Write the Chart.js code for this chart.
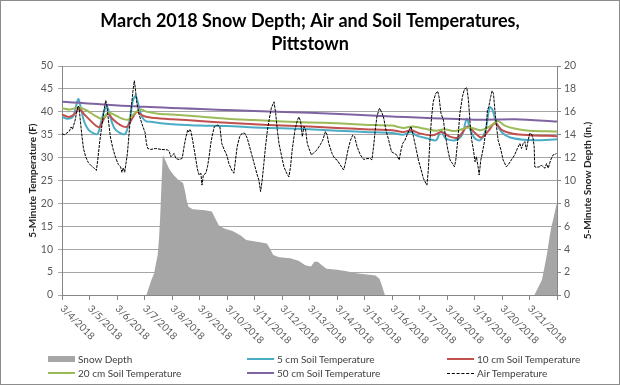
<!DOCTYPE html>
<html>
<head>
<meta charset="utf-8">
<script src="https://cdn.jsdelivr.net/npm/chart.js@4.4.1/dist/chart.umd.min.js"></script>
<style>
  body { margin: 0; background: #fff; }
  #wrap { position: relative; width: 620px; height: 385px; }
  #legend {
    position: absolute; left: 48px; top: 352px;
    display: grid; grid-template-columns: 199px 200px 160px; grid-auto-rows: 14px;
    font: 10px Lato, sans-serif; color: #404040;
  }
  .item { display: flex; align-items: center; white-space: nowrap; }
  .sw { width: 27px; margin-right: 3px; }
</style>
</head>
<body>
<div id="wrap">
  <canvas id="chart" width="620" height="385"></canvas>
  <div id="legend"></div>
</div>
<script>
// x values are days since 3/4/2018 00:00
const dateLabels = ['3/4/2018', '3/5/2018', '3/6/2018', '3/7/2018', '3/8/2018', '3/9/2018',
  '3/10/2018', '3/11/2018', '3/12/2018', '3/13/2018', '3/14/2018', '3/15/2018',
  '3/16/2018', '3/17/2018', '3/18/2018', '3/19/2018', '3/20/2018', '3/21/2018'];

const airDays = [0, 0.1, 0.18, 0.27, 0.33, 0.38, 0.47, 0.52, 0.58, 0.62, 0.66, 0.72, 0.78, 0.86, 0.95,
  1.05, 1.15, 1.25, 1.3, 1.37, 1.45, 1.52, 1.59, 1.63, 1.7, 1.76, 1.85, 1.95,
  2.05, 2.13, 2.18, 2.23, 2.28, 2.38, 2.45, 2.52, 2.58, 2.63, 2.67, 2.72, 2.8, 2.9, 2.96,
  3.02, 3.07, 3.12, 3.23, 3.41, 3.6, 3.84, 3.9, 3.96, 4.02, 4.08, 4.14, 4.26, 4.36, 4.38, 4.45,
  4.51, 4.57, 4.6, 4.65, 4.69, 4.75, 4.81, 4.87, 4.93, 4.99, 5.05, 5.09, 5.14, 5.23, 5.29, 5.35,
  5.41, 5.48, 5.54, 5.66, 5.74, 5.81, 5.9, 5.96, 6.01, 6.07, 6.17, 6.25, 6.31, 6.37, 6.46, 6.56,
  6.65, 6.74, 6.82, 6.92, 7.02, 7.1, 7.16, 7.22, 7.28, 7.34, 7.4, 7.47, 7.53, 7.61, 7.71, 7.77,
  7.83, 7.89, 7.99, 8.07, 8.17, 8.25, 8.31, 8.37, 8.47, 8.56, 8.62, 8.68, 8.74, 8.8, 8.86, 8.92,
  8.98, 9.07, 9.15, 9.27, 9.39, 9.48, 9.58, 9.64, 9.7, 9.82, 9.92, 10.0, 10.12, 10.24, 10.3,
  10.4, 10.49, 10.57, 10.64, 10.73, 10.85, 10.97, 11.09, 11.21, 11.27, 11.33, 11.39, 11.45,
  11.52, 11.55, 11.64, 11.7, 11.78, 11.88, 11.98, 12.09, 12.17, 12.26, 12.33, 12.39, 12.47,
  12.57, 12.69, 12.78, 12.86, 12.96, 13.06, 13.14, 13.23, 13.27, 13.32, 13.38, 13.44, 13.5,
  13.59, 13.66, 13.71, 13.78, 13.87, 13.93, 14.03, 14.11, 14.2, 14.27, 14.32, 14.39, 14.47,
  14.56, 14.63, 14.72, 14.78, 14.84, 14.9, 14.96, 15.02, 15.07, 15.13, 15.17, 15.23, 15.28,
  15.35, 15.43, 15.47, 15.52, 15.59, 15.64, 15.69, 15.74, 15.8, 15.86, 15.96, 16.04, 16.16,
  16.22, 16.34, 16.46, 16.56, 16.65, 16.71, 16.77, 16.83, 16.89, 16.95, 17.01, 17.07, 17.13,
  17.17, 17.19, 17.25, 17.37, 17.43, 17.49, 17.56, 17.62, 17.68, 17.77, 17.86, 17.98];
const airTemp = [35.2, 35.0, 35.4, 35.8, 36.7, 36.2, 38.0, 39.5, 41.3, 41.0, 38.5, 35.0, 32.0, 30.2, 29.0,
  28.3, 27.8, 27.2, 29.5, 33.4, 37.0, 40.0, 42.5, 41.5, 37.5, 34.5, 32.0, 30.0,
  28.5, 28.0, 26.8, 27.8, 26.8, 31.0, 36.0, 41.0, 44.5, 46.8, 45.0, 42.0, 39.5, 37.5, 36.5,
  35.5, 33.1, 32.0, 31.8, 32.0, 31.8, 31.7, 31.3, 30.2, 30.6, 30.9, 29.8, 29.6, 29.8, 30.2, 32.8,
  34.6, 36.0, 35.6, 36.2, 35.7, 33.8, 31.7, 29.5, 27.3, 26.2, 26.6, 24.0, 26.2, 26.6, 28.0, 30.2,
  33.1, 35.3, 36.8, 37.1, 36.8, 33.1, 31.7, 31.0, 30.2, 28.7, 27.3, 26.6, 29.5, 32.4, 34.6, 35.4,
  35.3, 34.2, 32.4, 30.2, 28.0, 26.2, 25.1, 22.6, 25.1, 28.7, 32.4, 36.0, 38.2, 40.8, 42.2, 39.7,
  36.0, 33.1, 30.2, 28.0, 26.6, 25.8, 28.0, 31.7, 36.0, 38.2, 38.9, 37.8, 34.6, 36.8, 36.0, 33.1,
  32.0, 30.6, 31.0, 31.7, 32.8, 33.8, 35.7, 35.0, 33.1, 30.9, 29.8, 29.5, 28.4, 27.3, 28.7,
  31.7, 33.8, 34.9, 34.6, 32.4, 30.6, 29.6, 29.8, 29.8, 29.5, 32.4, 36.0, 38.9,
  40.4, 40.8, 39.7, 38.6, 36.0, 33.8, 31.3, 30.9, 30.6, 29.5, 31.7, 33.1, 33.8,
  35.3, 36.8, 34.6, 32.4, 29.5, 27.3, 25.5, 24.4, 24.0, 27.3, 33.8, 38.9, 42.2,
  44.0, 44.5, 43.3, 39.7, 38.2, 35.3, 31.7, 29.5, 28.7, 28.0, 29.5, 33.8, 39.7,
  43.3, 44.9, 45.3, 42.6, 37.5, 33.8, 31.7, 29.1, 30.2, 28.0, 26.2, 29.5, 30.9,
  33.1, 36.8, 40.4, 41.1, 43.3, 44.6, 44.0, 40.4, 36.8, 33.8, 31.7, 29.5, 28.0,
  28.4, 29.5, 30.6, 32.0, 33.1, 32.0, 33.1, 33.5, 31.7, 33.8, 35.3, 35.2, 34.2,
  32.4, 28.0, 27.9, 28.0, 28.4, 28.0, 27.7, 28.7, 27.7, 29.5, 30.6, 30.9];

const soil5Days = [0, 0.2, 0.4, 0.52, 0.6, 0.68, 0.8, 0.95, 1.15, 1.3, 1.45, 1.57, 1.65, 1.75, 1.9,
  2.1, 2.3, 2.45, 2.58, 2.68, 2.78, 2.9, 3.05, 3.3, 3.6, 4, 5, 6, 7, 8, 9, 10, 11, 12, 12.4,
  12.7, 12.9, 13.3, 13.6, 13.78, 13.95, 14.3, 14.55, 14.72, 14.85, 15.0, 15.2, 15.4, 15.55,
  15.65, 15.8, 16.0, 16.3, 16.8, 17.2, 18];
const soil5Temp = [38.9, 38.5, 39.0, 41.5, 42.8, 41.0, 38.0, 36.2, 35.3, 35.2, 38.5, 40.8, 41.0, 39.0, 36.5,
  35.4, 35.2, 38.0, 42.5, 43.5, 41.5, 39.0, 38.0, 37.8, 37.5, 37.3, 37.0, 36.9, 36.6, 36.4, 36.2,
  35.9, 35.6, 35.4, 35.0, 35.6, 34.8, 34.2, 33.8, 35.8, 34.2, 33.8, 35.0, 38.5, 36.0, 34.3, 33.8,
  36.0, 41.0, 40.5, 37.5, 35.5, 34.4, 33.9, 33.8, 34.0];

const soil10Days = [0, 0.25, 0.45, 0.62, 0.8, 1.0, 1.25, 1.37, 1.55, 1.68, 1.85, 2.1, 2.35, 2.55, 2.72,
  2.9, 3.1, 3.5, 4, 5, 6, 7, 8, 9, 10, 11, 12, 12.4, 12.7, 13.0, 13.5, 13.8, 14.1, 14.4, 14.75,
  15.0, 15.25, 15.5, 15.75, 16.0, 16.4, 17, 18];
const soil10Temp = [39.4, 38.9, 39.5, 40.7, 39.5, 38.3, 36.9, 36.7, 38.8, 39.6, 38.4, 37.2, 36.7, 38.5, 40.0,
  39.3, 38.9, 38.6, 38.4, 38.0, 37.6, 37.3, 37.0, 36.8, 36.5, 36.2, 36.0, 35.6, 36.0, 35.3, 34.9,
  35.6, 34.6, 34.4, 36.8, 35.5, 34.4, 35.8, 37.5, 36.0, 35.2, 34.9, 34.7];

const soil20Days = [0, 0.3, 0.6, 0.9, 1.2, 1.45, 1.7, 1.95, 2.2, 2.4, 2.6, 2.85, 3.1, 3.5, 4, 5, 6, 7,
  8, 9, 10, 11, 12, 12.4, 12.75, 13.2, 13.6, 13.9, 14.3, 14.8, 15.2, 15.5, 15.85, 16.1, 16.5, 17, 18];
const soil20Temp = [40.8, 40.5, 41.0, 40.3, 39.2, 38.5, 39.8, 39.2, 38.5, 38.3, 39.5, 40.5, 40.0, 39.6,
  39.4, 39.0, 38.5, 38.2, 37.9, 37.7, 37.5, 37.2, 37.0, 36.5, 36.8, 36.3, 35.9, 36.2, 35.8, 36.6,
  36.0, 36.6, 38.0, 37.0, 36.3, 35.9, 35.7];

const soil50Days = [0, 3, 6, 9, 12, 15, 16.5, 18];
const soil50Temp = [42.2, 41.1, 40.4, 39.8, 39.0, 38.3, 38.4, 37.9];

const snowDays = [0, 3.07, 3.15, 3.25, 3.35, 3.42, 3.48, 3.53, 3.57, 3.62, 3.66, 3.68, 3.75, 3.9, 4.05,
  4.25, 4.4, 4.48, 4.53, 4.6, 4.75, 5.2, 5.45, 5.55, 5.7, 5.9, 6.2, 6.5, 6.7, 7.2, 7.45, 7.55,
  7.68, 7.9, 8.3, 8.6, 8.85, 9.05, 9.18, 9.3, 9.45, 9.62, 10.0, 10.3, 10.7, 11.1, 11.4, 11.55,
  11.65, 11.74, 17.18, 17.3, 17.45, 17.55, 17.65, 17.73, 17.8, 17.88, 17.97, 18];
const snowDepth = [0, 0, 0.6, 1.3, 1.9, 2.8, 3.5, 5.0, 6.8, 9.8, 12.0, 12.2, 11.8, 11.0, 10.5,
  10.0, 9.8, 9.0, 8.3, 7.7, 7.5, 7.4, 7.3, 6.8, 6.1, 5.8, 5.6, 5.2, 4.8, 4.6, 4.5, 4.1,
  3.5, 3.3, 3.2, 3.0, 2.6, 2.5, 2.9, 2.9, 2.6, 2.3, 2.2, 2.1, 1.9, 1.8, 1.7, 1.4,
  0.7, 0, 0, 0.6, 1.3, 2.5, 3.8, 5.1, 6.0, 6.8, 7.8, 8.0];

const pts = (xs, ys) => xs.map((x, i) => ({ x: x, y: ys[i] }));
const FONT = 'Lato, sans-serif';

const lineSet = (label, xs, ys, color, order) => ({
    label: label,
    data: pts(xs, ys),
    borderColor: color,
    backgroundColor: color,
    borderWidth: 2,
    pointRadius: 0,
    tension: 0.3,
    yAxisID: 'y',
    order: order
});

const datasets = [
    {
        label: 'Snow Depth',
        data: pts(snowDays, snowDepth),
        borderWidth: 0,
        borderColor: '#a6a6a6',
        backgroundColor: '#a6a6a6',
        fill: 'origin',
        pointRadius: 0,
        yAxisID: 'y1',
        order: 5
    },
    lineSet('5 cm Soil Temperature', soil5Days, soil5Temp, '#4bacc6', 4),
    lineSet('10 cm Soil Temperature', soil10Days, soil10Temp, '#c0504d', 3),
    lineSet('20 cm Soil Temperature', soil20Days, soil20Temp, '#9bbb59', 2),
    lineSet('50 cm Soil Temperature', soil50Days, soil50Temp, '#8064a2', 1),
    {
        label: 'Air Temperature',
        data: pts(airDays, airTemp),
        borderColor: '#000',
        borderWidth: 1,
        borderDash: [3, 1],
        pointRadius: 0,
        yAxisID: 'y',
        order: 0
    }
];

// draws the slanted date labels, the right axis title and the outer frame
const extras = {
    id: 'extras',
    afterDraw(chart) {
        const ctx = chart.ctx;
        const xs = chart.scales.x;
        const area = chart.chartArea;
        ctx.save();
        ctx.fillStyle = '#595959';
        ctx.font = '10px ' + FONT;
        ctx.textAlign = 'left';
        ctx.textBaseline = 'middle';
        dateLabels.forEach((lab, i) => {
            ctx.save();
            ctx.translate(xs.getPixelForValue(i), area.bottom + 12);
            ctx.rotate(Math.PI / 4);
            ctx.fillText(lab, 0, 0);
            ctx.restore();
        });
        ctx.save();
        ctx.font = 'bold 10px ' + FONT;
        ctx.fillStyle = '#262626';
        ctx.textAlign = 'center';
        ctx.translate(588, (area.top + area.bottom) / 2);
        ctx.rotate(-Math.PI / 2);
        ctx.fillText('5-Minute Snow Depth (in.)', 0, 0);
        ctx.restore();
        ctx.strokeStyle = '#8c8c8c';
        ctx.lineWidth = 1;
        ctx.strokeRect(0.5, 0.5, chart.width - 1, chart.height - 1);
        ctx.restore();
    }
};

const ctx = document.getElementById('chart').getContext('2d');
const chart = new Chart(ctx, {
    type: 'line',
    data: { datasets: datasets },
    options: {
        responsive: false,
        animation: false,
        devicePixelRatio: 1,
        layout: { padding: { left: 0, right: 0, top: 0, bottom: 0 } },
        plugins: {
            legend: { display: false },
            tooltip: { enabled: false },
            title: {
                display: true,
                text: ['March 2018 Snow Depth; Air and Soil Temperatures,', 'Pittstown'],
                color: '#000',
                font: { family: FONT, size: 18, weight: 'bold', lineHeight: 1.28 },
                padding: { top: 10, bottom: 10 }
            }
        },
        scales: {
            x: {
                type: 'linear',
                min: 0,
                max: 18,
                ticks: { stepSize: 1, display: false },
                grid: { drawOnChartArea: false, drawTicks: true, tickLength: 5, color: '#868686' },
                border: { color: '#868686' },
                afterFit: s => { s.height = 90; }
            },
            y: {
                position: 'left',
                min: 0,
                max: 50,
                ticks: { stepSize: 5, color: '#595959', font: { family: FONT, size: 10.5 }, padding: 5 },
                grid: { color: '#a6a6a6', tickLength: 4 },
                border: { color: '#868686' },
                title: {
                    display: true,
                    text: '5-Minute Temperature (F)',
                    color: '#262626',
                    font: { family: FONT, size: 10, weight: 'bold' },
                    padding: { top: 27, bottom: 0 }
                },
                afterFit: s => { s.width = 62; }
            },
            y1: {
                position: 'right',
                min: 0,
                max: 20,
                ticks: { stepSize: 2, color: '#595959', font: { family: FONT, size: 10.5 }, padding: 3 },
                grid: { drawOnChartArea: false, color: '#868686', tickLength: 4 },
                border: { color: '#868686' },
                afterFit: s => { s.width = 63; }
            }
        }
    },
    plugins: [extras]
});

// legend as three columns, filled row by row
const legendEl = document.getElementById('legend');
datasets.forEach(ds => {
    const item = document.createElement('div');
    item.className = 'item';
    const sw = document.createElement('span');
    sw.className = 'sw';
    if (ds.fill) {
        sw.style.height = '6px';
        sw.style.background = ds.backgroundColor;
    } else if (ds.borderDash) {
        sw.style.borderTop = '1px dashed ' + ds.borderColor;
    } else {
        sw.style.height = '2px';
        sw.style.background = ds.borderColor;
    }
    item.appendChild(sw);
    item.appendChild(document.createTextNode(ds.label));
    legendEl.appendChild(item);
});
</script>
</body>
</html>
